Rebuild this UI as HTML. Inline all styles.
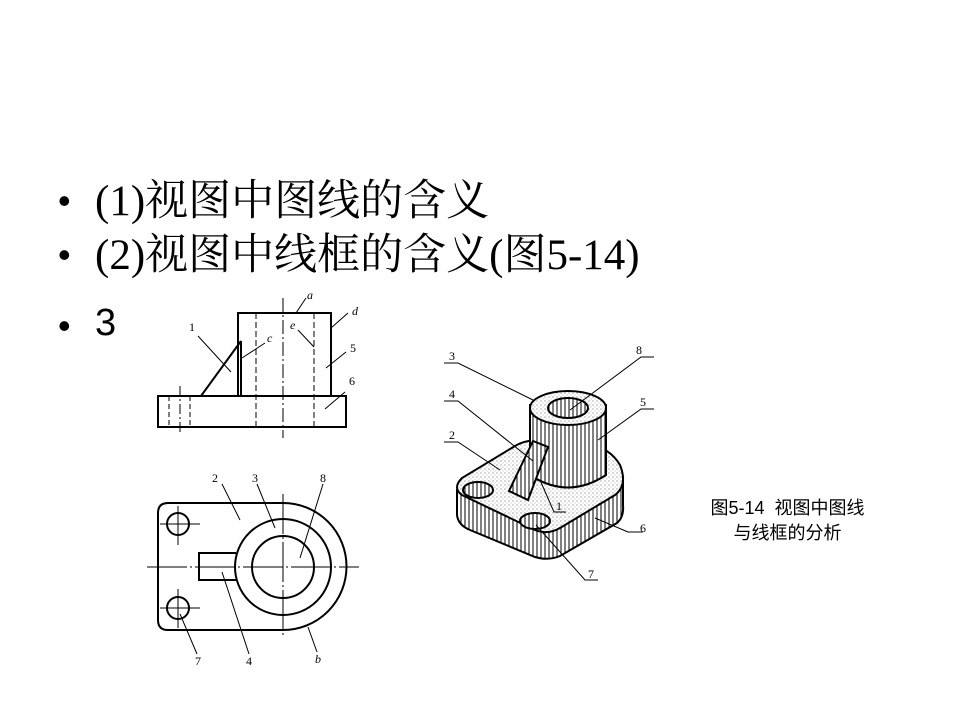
<!DOCTYPE html>
<html><head><meta charset="utf-8"><style>
html,body{margin:0;padding:0;background:#fff;width:960px;height:720px;overflow:hidden}
.t{position:absolute;left:95px;font-family:"Liberation Serif","Noto Serif CJK SC",serif;font-size:43px;line-height:1;color:#000;white-space:nowrap}
.b{position:absolute;left:58px;font-family:"Liberation Sans",sans-serif;font-size:36px;line-height:1}
.cap{position:absolute;left:680px;top:496px;width:215px;text-align:center;font-family:"Liberation Sans","Noto Sans CJK SC",sans-serif;font-size:18px;line-height:25px}
svg{position:absolute;left:0;top:0}
</style></head><body>
<div class="b" style="top:183px">•</div><div class="t" style="top:180px">(1)视图中图线的含义</div>
<div class="b" style="top:237px">•</div><div class="t" style="top:234px">(2)视图中线框的含义(图5-14)</div>
<div class="b" style="top:308px">•</div><div class="t" style="top:304px;font-family:'Liberation Sans',sans-serif;font-size:38px">3</div>
<div class="cap">图5-14&nbsp; 视图中图线<br>与线框的分析</div>
<svg width="960" height="720" viewBox="0 0 960 720">
<defs>
<pattern id="dots" width="4" height="4" patternUnits="userSpaceOnUse"><rect width="4" height="4" fill="#fff"/><circle cx="1" cy="1" r="0.6" fill="#777"/><circle cx="3" cy="3" r="0.5" fill="#999"/></pattern>
<pattern id="vh" width="4" height="4" patternUnits="userSpaceOnUse"><rect width="4" height="4" fill="#fff"/><line x1="1" y1="0" x2="1" y2="4" stroke="#000" stroke-width="1"/></pattern>
</defs>
<g fill="none" stroke="#000" stroke-width="2">
<rect x="238" y="313" width="93" height="83"/>
<rect x="158" y="396" width="188" height="31"/>
<line x1="201" y1="396" x2="241" y2="341"/>
<line x1="241" y1="341" x2="241" y2="396"/>
</g>
<g stroke="#000" stroke-width="1" fill="none">
<line x1="256" y1="313" x2="256" y2="427" stroke-dasharray="6,3"/>
<line x1="314" y1="313" x2="314" y2="427" stroke-dasharray="6,3"/>
<line x1="169" y1="396" x2="169" y2="427" stroke-dasharray="5,3"/>
<line x1="190" y1="396" x2="190" y2="427" stroke-dasharray="5,3"/>
<line x1="283" y1="298" x2="283" y2="438" stroke-dasharray="14,3,2,3"/>
<line x1="180" y1="386" x2="180" y2="434" stroke-dasharray="10,3,2,3"/>
<line x1="296" y1="313" x2="306" y2="298"/>
<line x1="331" y1="328" x2="348" y2="313"/>
<line x1="198" y1="336" x2="231" y2="372"/>
<line x1="242" y1="358" x2="265" y2="343"/>
<line x1="298" y1="330" x2="314" y2="347"/>
<line x1="326" y1="368" x2="346" y2="352"/>
<line x1="325" y1="409" x2="345" y2="392"/>
</g>
<g font-family="Liberation Serif,serif" font-size="12" fill="#000">
<text x="307" y="299" font-style="italic">a</text><text x="352" y="315" font-style="italic">d</text>
<text x="189" y="331">1</text><text x="267" y="342" font-style="italic">c</text><text x="290" y="329" font-style="italic">e</text>
<text x="350" y="352">5</text><text x="349" y="385">6</text>
</g>
<g fill="none" stroke="#000" stroke-width="2">
<path d="M283 503 H168 Q158 503 158 513 V620 Q158 630 168 630 H283 A63.5 63.5 0 0 0 283 503 Z"/>
<circle cx="283" cy="567" r="48"/>
<circle cx="283" cy="567" r="31"/>
<path d="M236 553 H199 V580 H236"/>
<circle cx="178" cy="524" r="11"/>
<circle cx="178" cy="608" r="11"/>
</g>
<g stroke="#000" stroke-width="1" fill="none">
<line x1="147" y1="567" x2="359" y2="567" stroke-dasharray="40,3,2,3"/>
<line x1="283" y1="494" x2="283" y2="638" stroke-dasharray="40,3,2,3"/>
<line x1="160" y1="524" x2="200" y2="524"/><line x1="178" y1="506" x2="178" y2="545"/>
<line x1="160" y1="608" x2="200" y2="608"/><line x1="178" y1="589" x2="178" y2="628"/>
<line x1="222" y1="484" x2="240" y2="520"/>
<line x1="257" y1="484" x2="275" y2="528"/>
<line x1="323" y1="484" x2="300" y2="558"/>
<line x1="180" y1="614" x2="197" y2="654"/>
<line x1="222" y1="572" x2="249" y2="654"/>
<line x1="308" y1="627" x2="317" y2="652"/>
</g>
<g font-family="Liberation Serif,serif" font-size="12" fill="#000">
<text x="212" y="482">2</text><text x="252" y="482">3</text><text x="320" y="482">8</text>
<text x="195" y="665">7</text><text x="246" y="665">4</text><text x="315" y="663" font-style="italic">b</text>
</g>
<g stroke="#000" stroke-width="2">
<path d="M457 490 L457 515 Q458 525 470 530 L535 557 Q548 561 560 556 L617 523 Q624 517 623 505 L623 480 Z" fill="url(#vh)"/>
<path d="M462 478 Q452 488 462 495 L535 530 Q548 535 560 528 L615 495 Q628 485 620 465 Q610 448 590 445 L540 440 Q525 440 515 446 Z" fill="url(#dots)"/>
<path d="M530 405 V475 Q568 500 606 475 V405 Z" fill="url(#vh)"/>
<ellipse cx="568" cy="408" rx="38" ry="17" fill="url(#dots)"/>
<ellipse cx="568" cy="408" rx="20" ry="10" fill="url(#vh)"/>
<path d="M509 491 L533 441 L548 447 L528 500 Z" fill="url(#vh)"/>
<ellipse cx="478" cy="490" rx="15" ry="8" fill="url(#vh)"/>
<ellipse cx="535" cy="521" rx="15" ry="8" fill="url(#vh)"/>
</g>
<g stroke="#000" stroke-width="1" fill="none">
<polyline points="444,363 458,363 533,400"/>
<polyline points="444,401 458,401 533,461"/>
<polyline points="444,442 458,442 500,470"/>
<polyline points="654,357 641,357 570,410"/>
<polyline points="654,409 641,409 598,440"/>
<polyline points="643,532 628,532 595,518"/>
<polyline points="598,580 585,580 536,525"/>
<polyline points="566,512 554,512 540,480"/>
</g>
<g font-family="Liberation Serif,serif" font-size="12" fill="#000">
<text x="449" y="360">3</text><text x="449" y="398">4</text><text x="449" y="439">2</text>
<text x="636" y="354">8</text><text x="640" y="406">5</text><text x="640" y="532">6</text>
<text x="588" y="578">7</text><text x="556" y="510">1</text>
</g>
</svg>
</body></html>
